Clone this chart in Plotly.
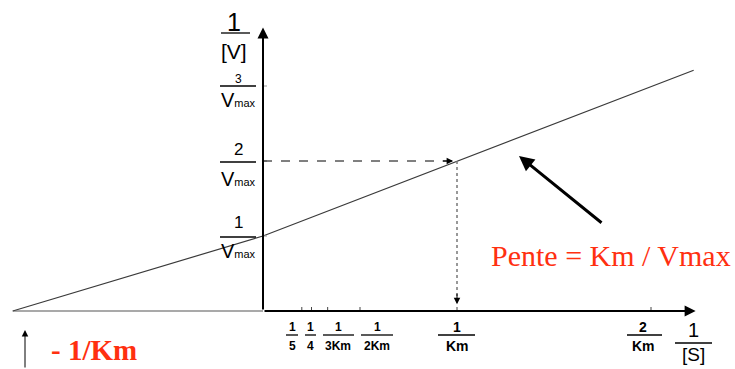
import plotly.graph_objects as go

W, H = 735, 369

# ---- data (Km = 1, Vmax = 1 units) ----
line_x = [-1.29, 0.0, 2.22]          # 1/[S]
line_y = [0.0, 1.0, 3.21]            # 1/[V]
x_ticks = [0.2, 0.25, 1/3, 0.5, 1.0, 2.0]
y_ticks = [1.0, 2.0, 3.0]
point_x, point_y = 1.0, 2.0          # 1/Km , 2/Vmax
x_tick_num = ["1", "1", "1", "1", "1", "2"]
x_tick_den = ["5", "4", "3Km", "2Km", "Km", "Km"]
y_tick_num = ["1", "2", "3"]
x_min, x_max = -1.29, 2.23
y_max = 3.78

# pixel -> data mapping used for the layout
X0, XS = 263.0, 194.0
Y0, YS = 311.0, 75.0
xr = [(0 - X0) / XS, (W - X0) / XS]
yr = [(Y0 - H) / YS, Y0 / YS]

def px(p):
    return p / W

def py(p):
    return 1 - p / H

def dx(p):
    return (p - X0) / XS

def dy(p):
    return (Y0 - p) / YS

RED = "#ff3010"
SANS = "Liberation Sans, Arial, sans-serif"
SERIF = "Liberation Serif, Times New Roman, serif"

fig = go.Figure()
fig.add_trace(go.Scatter(x=line_x, y=line_y, mode="lines",
                         line=dict(color="#3a3a3a", width=1.2),
                         hoverinfo="skip", showlegend=False))

shapes = []
annots = []

# x axis (left thin part) and arrows
shapes.append(dict(type="line", xref="x", yref="y", x0=x_min, x1=0, y0=0, y1=0,
                   line=dict(color="#555", width=1.2)))
annots.append(dict(x=x_max, y=0, ax=0, ay=0, xref="x", yref="y", axref="x", ayref="y",
                   showarrow=True, arrowhead=2, arrowsize=1.1, arrowwidth=2,
                   arrowcolor="black", text=""))
annots.append(dict(x=0, y=y_max, ax=0, ay=0, xref="x", yref="y", axref="x", ayref="y",
                   showarrow=True, arrowhead=2, arrowsize=1.1, arrowwidth=2,
                   arrowcolor="black", text=""))

# tick marks
for t in x_ticks:
    shapes.append(dict(type="line", xref="x", yref="paper", x0=t, x1=t,
                       y0=py(Y0), y1=py(Y0 - 4), line=dict(color="#444", width=1)))
for t in y_ticks:
    shapes.append(dict(type="line", xref="paper", yref="y", x0=px(X0), x1=px(X0 + 4),
                       y0=t, y1=t, line=dict(color="#999", width=1)))

# dashed guides to the point (1/Km, 2/Vmax)
shapes.append(dict(type="line", xref="x", yref="y", x0=0, x1=point_x, y0=point_y, y1=point_y,
                   line=dict(color="black", width=1, dash="dash")))
shapes.append(dict(type="line", xref="x", yref="y", x0=point_x, x1=point_x, y0=point_y, y1=0.1,
                   line=dict(color="#777", width=1.5, dash="dot")))
annots.append(dict(x=point_x - 0.02, y=point_y, ax=-12, ay=0, xref="x", yref="y",
                   showarrow=True, arrowhead=2, arrowsize=1.3, arrowwidth=1,
                   arrowcolor="black", text=""))
annots.append(dict(x=point_x, y=0.09, ax=0, ay=-12, xref="x", yref="y",
                   showarrow=True, arrowhead=2, arrowsize=1.3, arrowwidth=1,
                   arrowcolor="black", text=""))

# slope arrow
annots.append(dict(x=dx(519), y=dy(156), ax=dx(603), ay=dy(224), xref="x", yref="y",
                   axref="x", ayref="y", showarrow=True, arrowhead=2, arrowsize=1,
                   arrowwidth=3, arrowcolor="black", text=""))
# -1/Km arrow
annots.append(dict(x=dx(25), y=dy(330), ax=dx(25), ay=dy(369), xref="x", yref="y",
                   axref="x", ayref="y", showarrow=True, arrowhead=2, arrowsize=1.3,
                   arrowwidth=1, arrowcolor="black", text=""))


def frac(num, den, cx, ynum, ybar, yden, bx0, bx1, fnum, fden, bold=False, den_text=None):
    n = f"<b>{num}</b>" if bold else num
    d = den_text if den_text is not None else (f"<b>{den}</b>" if bold else den)
    annots.append(dict(x=px(cx), y=py(ynum), xref="paper", yref="paper", text=n,
                       showarrow=False, xanchor="center", yanchor="middle",
                       font=dict(family=SANS, size=fnum, color="black")))
    annots.append(dict(x=px(cx), y=py(yden), xref="paper", yref="paper", text=d,
                       showarrow=False, xanchor="center", yanchor="middle",
                       font=dict(family=SANS, size=fden, color="black")))
    shapes.append(dict(type="line", xref="paper", yref="paper", x0=px(bx0), x1=px(bx1),
                       y0=py(ybar), y1=py(ybar), line=dict(color="black", width=1.3)))

# x tick labels
x_lab_cx = [292, 310, 338, 377, 457, 643]
x_lab_bar = [(286, 298), (305, 316), (323, 354), (361, 393), (438, 475), (627, 662)]
for i in range(len(x_ticks)):
    frac(x_tick_num[i], x_tick_den[i], x_lab_cx[i], 327, 335, 346,
         x_lab_bar[i][0], x_lab_bar[i][1], 12 if i < 4 else 14, 12 if i < 4 else 14, bold=True)

# y tick labels
vmax = "V<span style='font-size:11px'>max</span>"
y_lab = [(223, 237, 251, 17), (149, 162, 179, 17), (79, 86, 100, 12)]
for i, (yn, yb, yd, fs) in enumerate(y_lab):
    frac(y_tick_num[i], "", 238, yn, yb, yd, 220, 256, fs, 20, den_text=vmax)

# axis titles
frac("1", "[V]", 234, 22, 33, 52, 221, 250, 25, 21)
frac("1", "[S]", 693, 330, 343, 354, 675, 712, 20, 19)

# red texts
annots.append(dict(x=px(611), y=py(255), xref="paper", yref="paper", text="Pente = Km / Vmax",
                   showarrow=False, xanchor="center", yanchor="middle",
                   font=dict(family=SERIF, size=30, color=RED)))
annots.append(dict(x=px(94), y=py(350), xref="paper", yref="paper", text="<b>- 1/Km</b>",
                   showarrow=False, xanchor="center", yanchor="middle",
                   font=dict(family=SERIF, size=29, color=RED)))

fig.update_layout(
    width=W, height=H, margin=dict(l=0, r=0, t=0, b=0),
    paper_bgcolor="white", plot_bgcolor="white",
    xaxis=dict(range=xr, visible=False, fixedrange=True),
    yaxis=dict(range=yr, visible=False, fixedrange=True),
    shapes=shapes, annotations=annots, showlegend=False,
)
fig.write_html("out.html", config={"displayModeBar": False},
               post_script="document.body.style.margin='0';document.body.style.overflow='hidden';")
